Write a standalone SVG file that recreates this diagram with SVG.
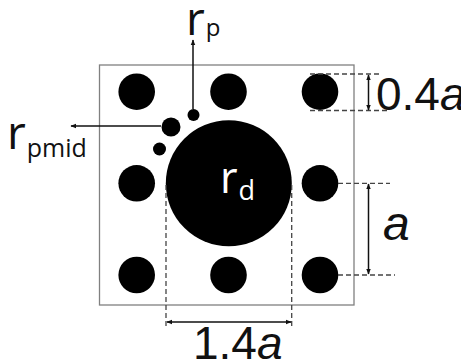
<svg xmlns="http://www.w3.org/2000/svg" width="461" height="360" viewBox="0 0 461 360">
<defs>
<marker id="ah" viewBox="0 0 10 10" refX="9" refY="5" markerWidth="6" markerHeight="6" orient="auto-start-reverse" markerUnits="userSpaceOnUse">
<path d="M0,1 L10,5 L0,9 z" fill="#111"/>
</marker>
<style>
.dot{fill:#000}
.dash{stroke:#444;stroke-width:1.3;stroke-dasharray:5 3;fill:none}
.arr{stroke:#111;stroke-width:1.5;fill:none}
.lbl{font-family:"Open Sans","DejaVu Sans",sans-serif;fill:#111}
.num{font-family:"Liberation Sans",Arial,sans-serif;fill:#111}
.it{font-style:italic}
</style>
</defs>
<rect width="461" height="360" fill="#fff"/>
<g id="cell"><rect x="99.5" y="65" width="254.5" height="240" fill="none" stroke="#808080" stroke-width="1.3"/></g>
<g id="pores">
<circle class="dot" cx="136.7" cy="91.7" r="18.3"/>
<circle class="dot" cx="228.5" cy="91.7" r="18.3"/>
<circle class="dot" cx="320" cy="91.7" r="18.3"/>
<circle class="dot" cx="136.7" cy="183.3" r="18.3"/>
<circle class="dot" cx="320" cy="183.3" r="18.3"/>
<circle class="dot" cx="136.7" cy="275" r="18.3"/>
<circle class="dot" cx="228.5" cy="275" r="18.3"/>
<circle class="dot" cx="320" cy="275" r="18.3"/>
</g>
<g id="defect"><circle class="dot" cx="228.8" cy="183.3" r="63"/>
<text class="lbl" x="220" y="193" font-size="43" style="fill:#fff">r<tspan font-size="27" dx="1" dy="7">d</tspan></text>
</g>
<g id="particles">
<circle class="dot" cx="193.5" cy="115" r="6"/>
<circle class="dot" cx="171" cy="127" r="9.5"/>
<circle class="dot" cx="159.5" cy="149" r="6.5"/>
</g>
<g id="connectors">
<line class="arr" x1="193" y1="109" x2="193" y2="40" marker-end="url(#ah)"/>
<line class="arr" x1="161" y1="126" x2="71" y2="126" marker-end="url(#ah)"/>
<line class="dash" x1="310" y1="74" x2="382" y2="74"/>
<line class="dash" x1="310" y1="110.5" x2="388" y2="110.5"/>
<line class="dash" x1="338" y1="183.3" x2="390" y2="183.3"/>
<line class="dash" x1="338" y1="275" x2="395" y2="275"/>
<line class="dash" x1="166" y1="185" x2="166" y2="327"/>
<line class="dash" x1="291.7" y1="185" x2="291.7" y2="327"/>
<line class="arr" x1="368.5" y1="75" x2="368.5" y2="110" marker-start="url(#ah)" marker-end="url(#ah)"/>
<line class="arr" x1="368.5" y1="184" x2="368.5" y2="274" marker-start="url(#ah)" marker-end="url(#ah)"/>
<line class="arr" x1="167" y1="322" x2="291" y2="322" marker-start="url(#ah)" marker-end="url(#ah)"/>
</g>
<g id="labels">
<text class="lbl" x="186" y="35" font-size="46">r<tspan font-size="24" dx="1" dy="1">p</tspan></text>
<text class="lbl" x="7" y="148.5" font-size="46">r<tspan font-size="25" dx="1" dy="8.5">pmid</tspan></text>
<text class="num" x="376" y="110" font-size="46">0.4<tspan class="it">a</tspan></text>
<text class="num it" x="383" y="240" font-size="48">a</text>
<text class="num" x="193" y="359" font-size="46">1.4<tspan class="it">a</tspan></text>
</g>
</svg>
